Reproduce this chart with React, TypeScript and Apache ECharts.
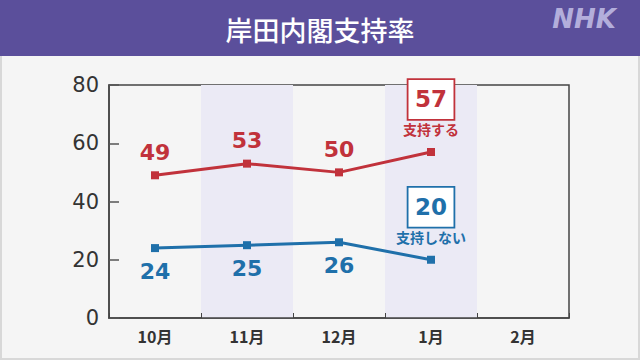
import React, { useEffect, useRef } from "react";
import * as echarts from "echarts";

const categories = ["10月", "11月", "12月", "1月", "2月"];
const supportValues = [49, 53, 50, 57];
const nonSupportValues = [24, 25, 26, 20];
const yTicks = [0, 20, 40, 60, 80];
const titleText = "岸田内閣支持率";
const supportName = "支持する";
const nonSupportName = "支持しない";

const RED = "#c1323b";
const BLUE = "#1f70aa";
const FONT = "'Noto Sans CJK JP', 'Noto Sans', sans-serif";
const NUMFONT = "'DejaVu Sans', sans-serif";

export default function App() {
  const ref = useRef<HTMLDivElement>(null);
  useEffect(() => {
    document.body.style.margin = "0";
    const chart = echarts.init(ref.current!, undefined, { renderer: "svg" });
    const lastIdx = supportValues.length - 1;
    const mkData = (vals: number[], color: string, name: string) =>
      vals.map((v, i) =>
        i === lastIdx
          ? {
              value: v,
              label: {
                show: true,
                position: "top",
                distance: 9,
                formatter: `{box|${v}}\n{gap|}\n{name|${name}}`,
                rich: {
                  box: {
                    fontSize: 23,
                    fontWeight: "bold",
                    color,
                    fontFamily: NUMFONT,
                    borderColor: color,
                    borderWidth: 1.8,
                    backgroundColor: "#ffffff",
                    width: 35,
                    height: 31,
                    align: "center",
                    padding: [4, 5, 4, 5],
                    lineHeight: 31,
                  },
                  gap: { lineHeight: 4, height: 4, fontSize: 4 },
                  name: {
                    fontSize: 14,
                    fontWeight: "bold",
                    color,
                    fontFamily: FONT,
                    lineHeight: 20,
                    align: "center",
                  },
                },
              },
            }
          : { value: v }
      );
    chart.setOption({
      animation: false,
      backgroundColor: "#f5f5f5",
      graphic: [
        {
          type: "rect",
          shape: { x: 1, y: 1, width: 638, height: 358 },
          style: { fill: "none", stroke: "#d8d8d8", lineWidth: 2 },
          z: -1,
        },
        {
          type: "rect",
          shape: { x: 0, y: 0, width: 640, height: 56 },
          style: { fill: "#5b4f9b" },
        },
        {
          type: "text",
          x: 320,
          y: 29,
          style: {
            text: titleText,
            fill: "#ffffff",
            fontSize: 27,
            fontFamily: FONT,
            fontWeight: 500,
            align: "center",
            verticalAlign: "middle",
          },
        },
        {
          type: "text",
          x: 584,
          y: 19,
          style: {
            text: "NHK",
            fill: "#b3aedb",
            fontSize: 26,
            fontStyle: "italic",
            fontWeight: "bold",
            fontFamily: "'DejaVu Sans', sans-serif",
            align: "center",
            verticalAlign: "middle",
          },
        },
      ],
      grid: {
        left: 109,
        right: 71,
        top: 85,
        bottom: 42,
        show: true,
        borderColor: "#444444",
        borderWidth: 1.5,
        backgroundColor: "transparent",
      },
      xAxis: {
        type: "category",
        data: categories,
        boundaryGap: true,
        axisLine: { show: true, lineStyle: { color: "#444444", width: 1.5 } },
        axisTick: { show: true, inside: true, length: 5, lineStyle: { color: "#444444" } },
        axisLabel: {
          color: "#333333",
          fontSize: 16,
          fontWeight: "bold",
          fontFamily: FONT,
          margin: 10,
        },
        splitArea: { show: true, areaStyle: { color: ["rgba(0,0,0,0)", "#ebeaf5"] } },
        splitLine: { show: false },
      },
      yAxis: {
        type: "value",
        min: yTicks[0],
        max: yTicks[yTicks.length - 1],
        interval: 20,
        axisLine: { show: true, lineStyle: { color: "#444444", width: 1.5 } },
        axisTick: { show: true, inside: true, length: 10, lineStyle: { color: "#555555", width: 1.5 } },
        axisLabel: {
          color: "#333333",
          fontSize: 21,
          fontFamily: NUMFONT,
          margin: 10,
        },
        splitLine: { show: false },
      },
      series: [
        {
          type: "line",
          name: supportName,
          data: mkData(supportValues, RED, supportName),
          symbol: "rect",
          symbolSize: 8,
          lineStyle: { color: RED, width: 3 },
          itemStyle: { color: RED },
          label: {
            show: true,
            position: "top",
            distance: 8,
            color: RED,
            fontSize: 22,
            fontFamily: NUMFONT,
            fontWeight: "bold",
          },
        },
        {
          type: "line",
          name: nonSupportName,
          data: mkData(nonSupportValues, BLUE, nonSupportName),
          symbol: "rect",
          symbolSize: 8,
          lineStyle: { color: BLUE, width: 3 },
          itemStyle: { color: BLUE },
          label: {
            show: true,
            position: "bottom",
            distance: 8,
            color: BLUE,
            fontSize: 22,
            fontFamily: NUMFONT,
            fontWeight: "bold",
          },
        },
      ],
    });
    return () => chart.dispose();
  }, []);
  return <div ref={ref} style={{ width: 640, height: 360 }} />;
}
